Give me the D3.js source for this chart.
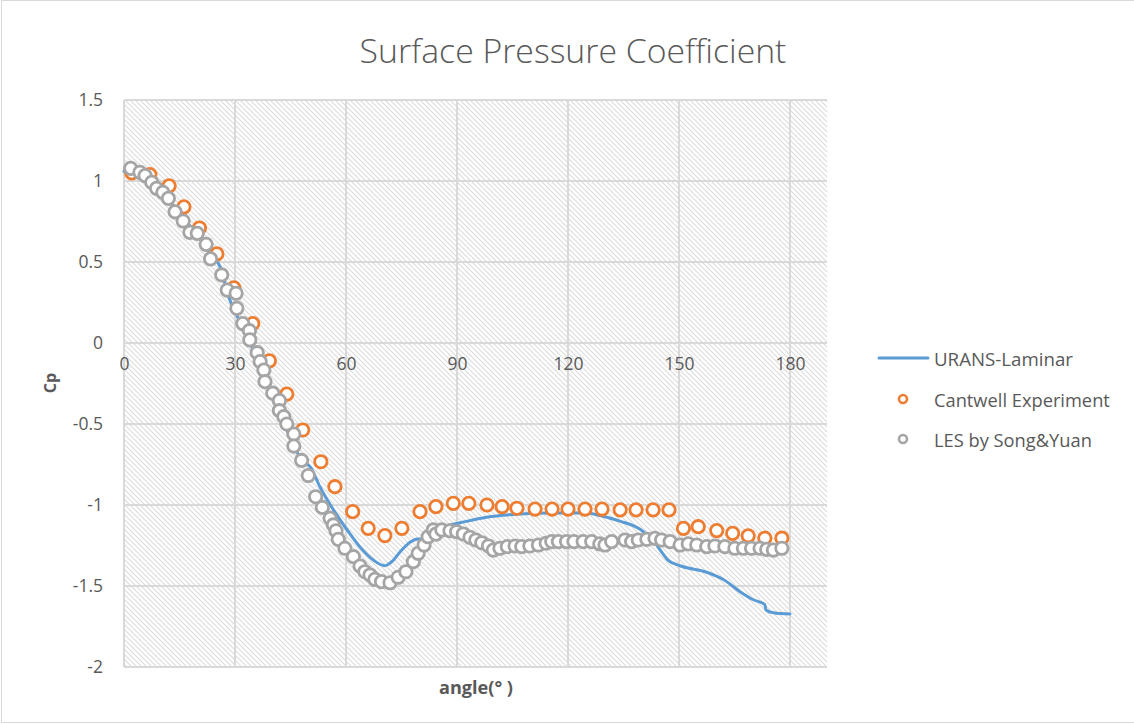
<!DOCTYPE html>
<html>
<head>
<meta charset="utf-8">
<script src="https://cdn.jsdelivr.net/npm/d3@7"></script>
<style>
  html, body { margin: 0; padding: 0; background: #fff; }
  svg { display: block; }
  text { font-family: "Open Sans", "Noto Sans", sans-serif; fill: #595959; }
</style>
</head>
<body>
<svg id="chart" width="1134" height="724"></svg>
<script>
// ---- data ----
const xTicks = [0, 30, 60, 90, 120, 150, 180];
const yTicks = [1.5, 1, 0.5, 0, -0.5, -1, -1.5, -2];

// URANS-Laminar (angle in degrees, Cp)
const uransAngle = [0, 5, 10, 15, 20, 24, 26, 28.2, 30.5, 33, 36, 40, 44, 48, 50.5, 53, 56.6, 60.2, 63.8, 67.4, 70.5, 72.4, 74.6, 77.3, 79.5, 81, 84, 87, 90.8, 98, 107, 116, 125, 128.6, 134, 139.5, 143, 145.3, 147, 150.3, 157.5, 162, 166.5, 170.1, 173.2, 173.5, 175.5, 180];
const uransCp = [1.06, 1.02, 0.93, 0.8, 0.66, 0.53, 0.47, 0.29, 0.17, 0.05, -0.1, -0.32, -0.54, -0.72, -0.77, -0.89, -1.03, -1.15, -1.26, -1.34, -1.375, -1.35, -1.29, -1.23, -1.21, -1.21, -1.16, -1.13, -1.11, -1.075, -1.056, -1.05, -1.05, -1.065, -1.1, -1.15, -1.22, -1.29, -1.34, -1.375, -1.415, -1.46, -1.535, -1.585, -1.615, -1.648, -1.665, -1.673];

// Cantwell experiment
const cantwellAngle = [2.1, 7, 12.2, 16.2, 20.4, 25.1, 29.7, 34.8, 39.3, 44, 48.3, 53.2, 57, 61.8, 66, 70.5, 75.1, 80, 84.3, 89, 93.2, 98.1, 102.2, 106.2, 111.1, 115.7, 120, 124.6, 129.2, 134.1, 138.4, 143, 147.3, 151.2, 155.2, 160.2, 164.5, 168.7, 173.2, 177.8];
const cantwellCp = [1.05, 1.04, 0.97, 0.84, 0.71, 0.55, 0.34, 0.12, -0.11, -0.315, -0.537, -0.733, -0.887, -1.041, -1.144, -1.189, -1.144, -1.041, -1.01, -0.99, -0.99, -1.0, -1.01, -1.02, -1.025, -1.025, -1.025, -1.025, -1.025, -1.03, -1.03, -1.03, -1.03, -1.144, -1.134, -1.158, -1.175, -1.19, -1.205, -1.205];

// LES by Song & Yuan
const lesAngle = [1.8, 4.3, 5.7, 7.5, 8.8, 10.5, 12, 13.8, 16, 17.8, 19.8, 22.2, 23.4, 26.4, 27.9, 30.3, 30.5, 32.1, 33.9, 34, 36, 36.8, 37.8, 38.1, 40.2, 42, 42, 43.2, 44, 45.9, 45.9, 48, 49.8, 51.8, 53.6, 55.7, 56.6, 57.3, 57.9, 59.7, 62, 63.8, 65.1, 66.5, 67.8, 69.6, 71.9, 74.1, 76.2, 78.2, 79.5, 81.1, 82.2, 83.6, 84.3, 85.9, 88.1, 89.9, 91.7, 93.5, 95.1, 96.7, 98.5, 99.8, 101.6, 103.6, 105.7, 107.5, 109.7, 112, 114.1, 115.6, 117.4, 119.6, 121.6, 124.1, 126.4, 128.6, 130, 131.8, 135.4, 137.2, 139, 141.3, 143.5, 145.3, 147.6, 150.3, 152.5, 154.8, 157.5, 159.7, 162.4, 165.1, 167.4, 169.6, 171.9, 173.7, 175.5, 177.8];
const lesCp = [1.078, 1.054, 1.033, 0.992, 0.955, 0.93, 0.893, 0.81, 0.753, 0.683, 0.677, 0.609, 0.519, 0.42, 0.327, 0.307, 0.214, 0.12, 0.076, 0.019, -0.06, -0.115, -0.167, -0.239, -0.31, -0.356, -0.418, -0.455, -0.5, -0.562, -0.636, -0.725, -0.818, -0.949, -1.015, -1.082, -1.123, -1.159, -1.212, -1.267, -1.319, -1.377, -1.412, -1.432, -1.459, -1.473, -1.48, -1.446, -1.412, -1.35, -1.298, -1.247, -1.196, -1.154, -1.18, -1.154, -1.159, -1.165, -1.179, -1.2, -1.216, -1.233, -1.253, -1.278, -1.267, -1.257, -1.253, -1.257, -1.253, -1.247, -1.236, -1.226, -1.226, -1.226, -1.226, -1.226, -1.226, -1.24, -1.247, -1.226, -1.216, -1.226, -1.216, -1.212, -1.206, -1.216, -1.226, -1.247, -1.24, -1.247, -1.257, -1.253, -1.257, -1.267, -1.267, -1.267, -1.267, -1.274, -1.278, -1.267];

const seriesNames = ["URANS-Laminar", "Cantwell Experiment", "LES by Song&Yuan"];
const seriesColors = ["#5B9BD5", "#ED7D31", "#A5A5A5"];

// ---- layout ----
const svg = d3.select("#chart");
const plot = { left: 124, right: 827, top: 100, bottom: 667 };

const x = d3.scaleLinear().domain([0, 190]).range([plot.left, plot.right]);
const y = d3.scaleLinear().domain([-2, 1.5]).range([plot.bottom, plot.top]);

// chart area border
svg.append("rect")
  .attr("x", 1.5).attr("y", 0.5).attr("width", 1140).attr("height", 722)
  .attr("fill", "none").attr("stroke", "#d9d9d9").attr("stroke-width", 1);

// hatched plot-area fill
const defs = svg.append("defs");
const pat = defs.append("pattern")
  .attr("id", "hatch").attr("patternUnits", "userSpaceOnUse")
  .attr("width", 5).attr("height", 5);
pat.append("rect").attr("width", 5).attr("height", 5).attr("fill", "#ffffff");
pat.append("path")
  .attr("d", "M-1,-1 L6,6 M4,-1 L6,1 M-1,4 L1,6")
  .attr("stroke", "#dcdcdc").attr("stroke-width", 1.1);

svg.append("rect")
  .attr("x", plot.left).attr("y", plot.top)
  .attr("width", plot.right - plot.left).attr("height", plot.bottom - plot.top)
  .attr("fill", "url(#hatch)");

// gridlines
const grid = svg.append("g").attr("stroke", "#d9d9d9").attr("stroke-width", 2);
grid.selectAll("line.h").data(yTicks).join("line").attr("class", "h")
  .attr("x1", plot.left).attr("x2", plot.right)
  .attr("y1", d => y(d)).attr("y2", d => y(d));
grid.selectAll("line.v").data(xTicks).join("line").attr("class", "v")
  .attr("x1", d => x(d)).attr("x2", d => x(d))
  .attr("y1", plot.top).attr("y2", plot.bottom);

// y axis labels
const yAxis = d3.axisLeft(y).tickValues(yTicks).tickSize(0).tickPadding(0)
  .tickFormat(d => String(d));
svg.append("g").attr("transform", `translate(${plot.left - 21},0)`)
  .call(yAxis)
  .call(g => g.select(".domain").remove())
  .selectAll("text").style("font-size", "17.5px").attr("fill", "#595959")
  .style("font-family", "'Open Sans', sans-serif");

// x axis labels, sitting under the Cp = 0 line
const xAxis = d3.axisBottom(x).tickValues(xTicks).tickSize(0).tickPadding(0)
  .tickFormat(d => String(d));
svg.append("g").attr("transform", `translate(0,${y(0) + 15})`)
  .call(xAxis)
  .call(g => g.select(".domain").remove())
  .selectAll("text").style("font-size", "17.5px").attr("fill", "#595959")
  .style("font-family", "'Open Sans', sans-serif");

// series 1: line
const urans = uransAngle.map((a, i) => [a, uransCp[i]]);
svg.append("path")
  .datum(urans)
  .attr("fill", "none").attr("stroke", seriesColors[0]).attr("stroke-width", 3)
  .attr("stroke-linejoin", "round").attr("stroke-linecap", "round")
  .attr("d", d3.line().x(d => x(d[0])).y(d => y(d[1])).curve(d3.curveMonotoneX));

// series 2 and 3: ring markers
function rings(angles, values, color) {
  svg.append("g").selectAll("circle")
    .data(angles.map((a, i) => [a, values[i]]))
    .join("circle")
    .attr("cx", d => x(d[0])).attr("cy", d => y(d[1]))
    .attr("r", 6.2)
    .attr("fill", "#ffffff").attr("stroke", color).attr("stroke-width", 2.8);
}
rings(cantwellAngle, cantwellCp, seriesColors[1]);
rings(lesAngle, lesCp, seriesColors[2]);

// fit a text element to a target width by adjusting its font size
function fit(sel, width) {
  const node = sel.node();
  const fs = parseFloat(sel.style("font-size"));
  const w = node.getComputedTextLength();
  sel.style("font-size", (fs * width / w).toFixed(2) + "px");
  return sel;
}

// title
fit(svg.append("text")
  .attr("x", 573).attr("y", 50).attr("text-anchor", "middle")
  .attr("dominant-baseline", "central")
  .style("font-size", "30px").style("font-weight", 300)
  .text("Surface Pressure Coefficient"), 427);

// axis titles
svg.append("text")
  .attr("transform", "translate(50,383) rotate(-90)")
  .attr("text-anchor", "middle").attr("dominant-baseline", "central")
  .style("font-size", "16px").style("font-weight", 700)
  .text("Cp");
fit(svg.append("text")
  .attr("x", 476).attr("y", 687).attr("text-anchor", "middle")
  .attr("dominant-baseline", "central")
  .style("font-size", "16px").style("font-weight", 700)
  .text("angle(° )"), 74);

// legend
const legend = svg.append("g");
const legendY = [358, 399, 439];
const legendW = [139, 176, 158];
legend.append("line")
  .attr("x1", 879).attr("x2", 928).attr("y1", legendY[0]).attr("y2", legendY[0])
  .attr("stroke", seriesColors[0]).attr("stroke-width", 3).attr("stroke-linecap", "round");
[1, 2].forEach(i => {
  legend.append("circle")
    .attr("cx", 903).attr("cy", legendY[i]).attr("r", 4)
    .attr("fill", "#ffffff").attr("stroke", seriesColors[i]).attr("stroke-width", 2.6);
});
seriesNames.forEach((name, i) => {
  fit(legend.append("text")
    .attr("x", 934).attr("y", legendY[i])
    .attr("dominant-baseline", "central")
    .style("font-size", "18px")
    .text(name), legendW[i]);
});
</script>
</body>
</html>
